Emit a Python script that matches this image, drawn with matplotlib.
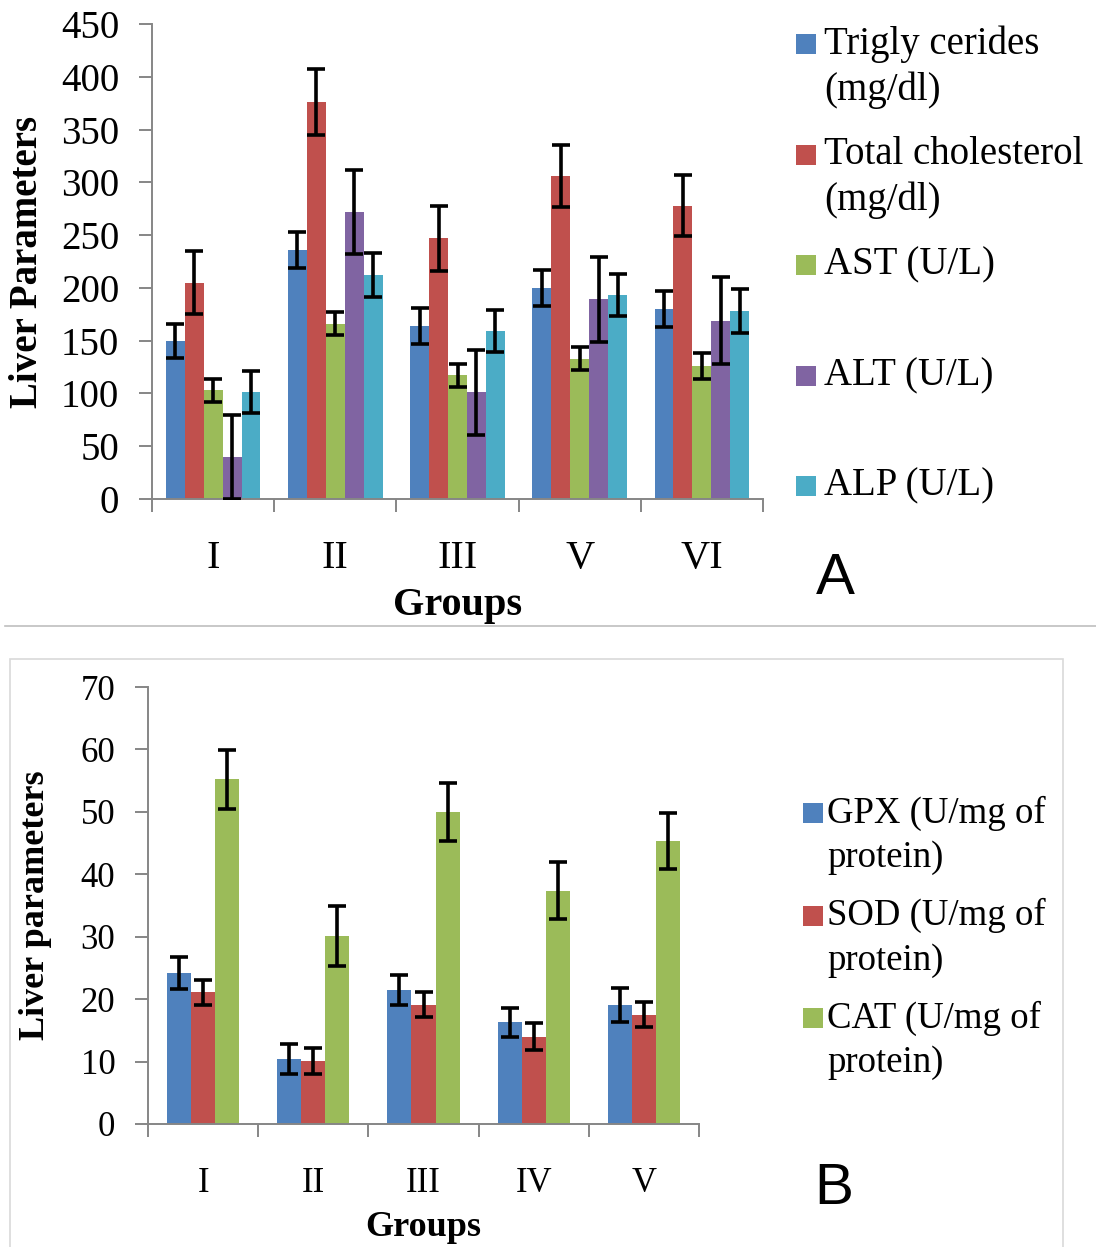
import numpy as np
import matplotlib
matplotlib.use("Agg")
from matplotlib import pyplot as plt
from matplotlib.lines import Line2D
from matplotlib.patches import Rectangle

plt.rcParams['font.family'] = ['Liberation Serif', 'DejaVu Serif']

# panel A data
groupsA = ["I", "II", "III", "V", "VI"]
labelsA = ["Trigly cerides\n(mg/dl)", "Total cholesterol\n(mg/dl)", "AST (U/L)", "ALT (U/L)", "ALP (U/L)"]
triglycerides = [150, 236, 164, 200, 180]
triglyceridesErr = [16, 17, 17, 17, 17]
cholesterol = [205, 376, 247, 306, 278]
cholesterolErr = [30, 31, 31, 29, 29]
ast = [103, 166, 117, 133, 126]
astErr = [11, 11, 11, 11, 12]
alt = [40, 272, 101, 189, 169]
altErr = [40, 40, 40, 40, 41]
alp = [101, 212, 159, 193, 178]
alpErr = [20, 21, 20, 20, 21]

# panel B data
groupsB = ["I", "II", "III", "IV", "V"]
labelsB = ["GPX (U/mg of\nprotein)", "SOD (U/mg of\nprotein)", "CAT (U/mg of\nprotein)"]
gpx = [24.2, 10.4, 21.4, 16.3, 19.1]
gpxErr = [2.6, 2.4, 2.4, 2.3, 2.7]
sod = [21.1, 10.1, 19.1, 14.0, 17.5]
sodErr = [2.0, 2.1, 2.0, 2.1, 2.0]
cat = [55.2, 30.1, 50.0, 37.4, 45.3]
catErr = [4.7, 4.8, 4.6, 4.6, 4.5]

colors = ['#4F81BD', '#C0504D', '#9BBB59', '#8064A2', '#4BACC6']
axisGray = '#868686'

W, H = 1096, 1247
fig = plt.figure(figsize=(W / 100, H / 100), dpi=100)


def px(x, y):
    return x / W, 1 - y / H


def drawPanel(rect, groups, values, errors, width, ymax, ystep, tickSize, labelSize, ylabel, ylabelX):
    ax = fig.add_axes(rect)
    x = np.arange(len(groups))
    n = len(values)
    for i, (vals, errs) in enumerate(zip(values, errors)):
        offset = (i - (n - 1) / 2) * width
        ax.bar(x + offset, vals, width, color=colors[i], zorder=2)
        ax.errorbar(x + offset, vals, yerr=errs, fmt='none', ecolor='black',
                    elinewidth=2.6, capsize=6.2, capthick=2.6, zorder=3)
    ax.set_xlim(-0.5, len(groups) - 0.5)
    ax.set_ylim(0, ymax)
    ax.set_yticks(np.arange(0, ymax + 1, ystep))
    ax.set_xticks(np.arange(-0.5, len(groups)), [''] * (len(groups) + 1))
    ax.set_xticks(x, groups, minor=True)
    ax.tick_params(axis='x', which='major', length=9.5, width=1.4, color=axisGray)
    ax.tick_params(axis='x', which='minor', length=0, pad=43, labelsize=labelSize)
    for t in ax.get_xticklabels(minor=True):
        t.set_va('center')
    ax.tick_params(axis='y', length=9.5, width=1.4, color=axisGray, pad=14, labelsize=tickSize)
    for side in ['top', 'right']:
        ax.spines[side].set_visible(False)
    for side in ['left', 'bottom']:
        ax.spines[side].set_color(axisGray)
        ax.spines[side].set_linewidth(1.4)
    ax.set_ylabel(ylabel[0], fontsize=ylabel[1], fontweight='bold')
    ax.yaxis.set_label_coords(ylabelX, 0.5)
    ax.yaxis.label.set_va('center')
    return ax


axA = drawPanel([152 / W, 1 - 499 / H, 611 / W, 475 / H], groupsA,
                [triglycerides, cholesterol, ast, alt, alp],
                [triglyceridesErr, cholesterolErr, astErr, altErr, alpErr],
                0.155, 450, 50, 28, 29, ("Liver Parameters", 28), -0.203)
axA.set_xlabel("Groups", fontsize=29, fontweight='bold')
axA.xaxis.set_label_coords(0.5, -(606 - 499) / 475)
axA.xaxis.label.set_va('center')

axB = drawPanel([148 / W, 1 - 1124 / H, 551 / W, 437 / H], groupsB,
                [gpx, sod, cat], [gpxErr, sodErr, catErr],
                0.218, 70, 10, 25, 25, ("Liver parameters", 26), -0.205)
axB.set_xlabel("Groups", fontsize=26, fontweight='bold')
axB.xaxis.set_label_coords(0.5, -(1227 - 1124) / 437)
axB.xaxis.label.set_va('center')


def drawLegend(labels, patchX, textX, firstY, step, lineGap, size):
    for i, label in enumerate(labels):
        y = firstY + i * step
        fig.patches.append(Rectangle(px(patchX, y + 10), 20 / W, 20 / H, transform=fig.transFigure,
                                     facecolor=colors[i], edgecolor='none'))
        for k, line in enumerate(label.split('\n')):
            fig.text(*px(textX, y + k * lineGap), line, fontsize=size, va='center', ha='left')


drawLegend(labelsA, 796, 824, 44, 110.5, 46, 28)
drawLegend(labelsB, 803, 827, 813, 102.5, 45, 26.5)

fig.text(*px(835, 579), "A", fontsize=42, family='Liberation Sans', ha='center', va='center')
fig.text(*px(834, 1189), "B", fontsize=42, family='Liberation Sans', ha='center', va='center')

# separator line and the frame round panel B
fig.add_artist(Line2D([5 / W, 1], [1 - 626 / H] * 2, transform=fig.transFigure, color='#BFBFBF', lw=1.2))
fig.patches.append(Rectangle(px(10, 1260), 1053 / W, 601 / H, transform=fig.transFigure,
                             facecolor='none', edgecolor='#D9D9D9', lw=1.2))

fig.savefig("out.png", dpi=100)
